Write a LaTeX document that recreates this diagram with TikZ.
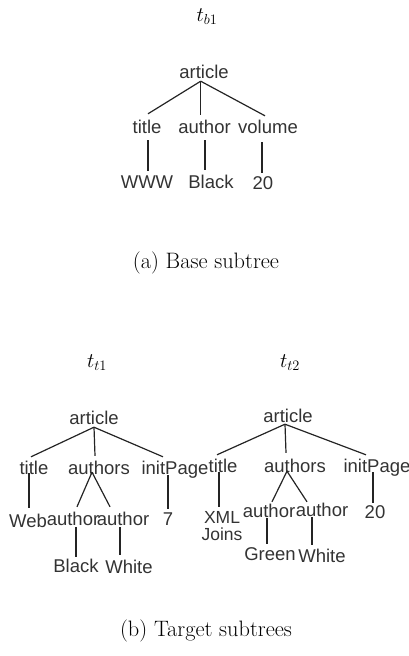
\documentclass[tikz,border=0pt]{standalone}
\usepackage{fontspec}
\newfontfamily\lblfont{Liberation Sans}
\definecolor{ink}{HTML}{333333}
\tikzset{
  lbl/.style={font=\lblfont\fontsize{18.5}{15}\selectfont, text=ink, inner sep=0pt,
              anchor=base, text height=13.3pt, text depth=0pt},
  mlbl/.style={font=\lblfont\fontsize{17.5}{16.5}\selectfont, text=ink, inner sep=0pt,
               align=center, anchor=north},
  captxt/.style={font=\fontsize{22.3}{26}\selectfont, inner sep=0pt, text=black},
  link/.style={draw=ink!70!black, line width=1.2pt},
}
% parent, dx, dy (from its south) ; child, dx, dy (from its north)
\newcommand{\tedge}[6]{\draw[link] ([shift={(#2pt,#3pt)}]#1.south) -- ([shift={(#5pt,#6pt)}]#4.north);}
\begin{document}
\begin{tikzpicture}[x=1pt,y=-1pt]
\useasboundingbox (0,0) rectangle (409,656);

% ---------- base subtree ----------
\node[captxt] (tb1) at (207,17) {$t_{b1}$};
\node[lbl] (a0)  at (204,78.5)   {article};
\node[lbl] (ti0) at (147,133.5)  {title};
\node[lbl] (au0) at (204.5,133.5){author};
\node[lbl] (vo0) at (268,133.5)  {volume};
\node[lbl] (w0)  at (147,188.5)  {WWW};
\node[lbl] (bl0) at (211,188.5)  {Black};
\node[lbl] (n0)  at (263,189.5)  {20};
\tedge{a0}{-3.3}{-2.5}{ti0}{1}{6.2}
\tedge{a0}{-3.3}{-2.5}{au0}{-3.8}{5.2}
\tedge{a0}{-3.3}{-2.5}{vo0}{-3}{4.2}
\tedge{ti0}{1}{-6.5}{w0}{1}{4.2}
\tedge{au0}{0.5}{-6.5}{bl0}{-6}{5.2}
\tedge{vo0}{-6}{-8.5}{n0}{-1}{3.2}
\node[captxt] (capa) at (206,263) {(a) Base subtree};

% ---------- target subtree t1 ----------
\node[captxt] (tt1) at (97,363) {$t_{t1}$};
\node[lbl] (a1)   at (94,424.5)  {article};
\node[lbl] (ti1)  at (34,474.5)  {title};
\node[lbl] (as1)  at (99,474.5)  {authors};
\node[lbl] (ip1)  at (175,474.5) {initPage};
\node[lbl] (web)  at (28,527.5)  {Web};
\node[lbl] (au1a) at (73,525.5)  {author};
\node[lbl] (au1b) at (123,525.5) {author};
\node[lbl] (n1)   at (168,525.5) {7};
\node[lbl] (bk1)  at (76,572.5)  {Black};
\node[lbl] (wh1)  at (129,573.5) {White};
\tedge{a1}{0}{-2.5}{ti1}{-3}{4.2}
\tedge{a1}{0}{-2.5}{as1}{-4}{5.2}
\tedge{a1}{0}{-2.5}{ip1}{-12}{4.2}
\tedge{ti1}{-5}{1.5}{web}{1}{6.2}
\tedge{as1}{-7}{2.5}{au1a}{4}{5.2}
\tedge{as1}{-7}{2.5}{au1b}{-13}{5.2}
\tedge{ip1}{-7}{-0.5}{n1}{0}{3.2}
\tedge{au1a}{3}{-1.5}{bk1}{0}{2.2}
\tedge{au1b}{-3}{-1.5}{wh1}{-9}{5.2}

% ---------- target subtree t2 ----------
\node[captxt] (tt2) at (290,363) {$t_{t2}$};
\node[lbl]  (a2)   at (288,422.5) {article};
\node[lbl]  (ti2)  at (223,472.5) {title};
\node[lbl]  (as2)  at (295,472.5) {authors};
\node[lbl]  (ip2)  at (377,472.5) {initPage};
\node[mlbl] (x2)   at (222,511.5) {XML\\Joins};
\node[lbl]  (au2a) at (269,517.5) {author};
\node[lbl]  (au2b) at (322,516.5) {author};
\node[lbl]  (n2)   at (375,518.5) {20};
\node[lbl]  (gr2)  at (270,560.5) {Green};
\node[lbl]  (wh2)  at (322,562.5) {White};
\tedge{a2}{-3}{-1.5}{ti2}{-6}{4.2}
\tedge{a2}{-3}{-1.5}{as2}{-9}{6.2}
\tedge{a2}{-3}{-1.5}{ip2}{-11}{4.2}
\tedge{ti2}{-4}{0.5}{x2}{-3}{4.5}
\tedge{as2}{-8}{1.5}{au2a}{3}{2.2}
\tedge{as2}{-8}{1.5}{au2b}{-15}{1.2}
\tedge{ip2}{-4}{0.5}{n2}{-2}{2.2}
\tedge{au2a}{-2}{-0.5}{gr2}{-3}{3.2}
\tedge{au2b}{-10}{-0.5}{wh2}{-10}{4.2}
\node[captxt] (capb) at (206,631) {(b) Target subtrees};
\end{tikzpicture}
\end{document}
